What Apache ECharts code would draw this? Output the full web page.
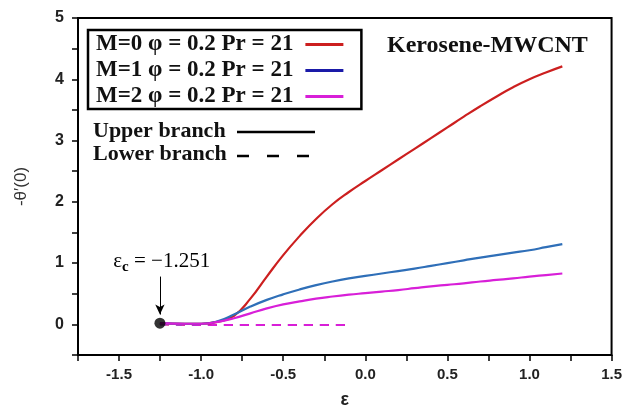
<!DOCTYPE html>
<html><head><meta charset="utf-8">
<script src="https://cdn.jsdelivr.net/npm/echarts@6/dist/echarts.min.js"></script>
<style>html,body{margin:0;padding:0;background:#fff}#c{width:625px;height:414px}</style>
</head><body><div id="c"></div>
<script>
// ---- data ----
const epsUpper = [-1.251,-1.1,-1.0,-0.9,-0.8,-0.7,-0.6,-0.5,-0.4,-0.3,-0.2,-0.1,0.0,0.1,0.2,0.3,0.4,0.5,0.6,0.7,0.8,0.9,1.0,1.1,1.2];
const m0Upper = [0.02,0.01,0.01,0.04,0.14,0.42,0.78,1.13,1.44,1.72,1.96,2.16,2.34,2.515,2.69,2.865,3.04,3.215,3.39,3.56,3.72,3.87,4.0,4.11,4.21];
const m1Upper = [0.02,0.01,0.01,0.05,0.16,0.29,0.40,0.49,0.57,0.64,0.70,0.75,0.79,0.83,0.87,0.91,0.955,1.00,1.045,1.09,1.13,1.17,1.21,1.26,1.31];
const m2Upper = [0.02,0.01,0.01,0.04,0.10,0.18,0.26,0.325,0.375,0.42,0.455,0.485,0.51,0.535,0.56,0.59,0.62,0.645,0.67,0.70,0.725,0.75,0.78,0.805,0.83];
const epsLower = [-1.251,-1.0,-0.5,-0.1];
const m0Lower = [0.0,-0.01,-0.01,-0.01];
const m1Lower = [0.0,-0.01,-0.01,-0.01];
const m2Lower = [0.0,-0.01,-0.01,-0.01];
const epsCritical = -1.251;
const seriesNames = ['M=0 \u03c6 = 0.2 Pr = 21','M=1 \u03c6 = 0.2 Pr = 21','M=2 \u03c6 = 0.2 Pr = 21'];
const xTickLabels = ['-1.5','-1.0','-0.5','0.0','0.5','1.0','1.5'];
const yTickLabels = ['0','1','2','3','4','5'];

const colors = ['#cc1f1f','#2f6fb8','#d81fd8'];
const legendColors = ['#cc1f1f','#1a1aa8','#d81fd8'];
const zip = (xs, ys) => xs.map((x,i)=>[x, ys[i]]);
const serif = '"Liberation Serif","Times New Roman",serif';
const sans = '"Liberation Sans",Arial,sans-serif';

const upper = [m0Upper,m1Upper,m2Upper];
const lower = [m0Lower,m1Lower,m2Lower];
const dashes = [[9,7],[6,10],[9,7]];
const series = [];
lower.forEach((ys,i)=>{
  series.push({name: seriesNames[i]+' lower', type:'line', data: zip(epsLower, ys), symbol:'none',
    lineStyle:{color:colors[i], width:2, type:dashes[i], dashOffset: 0}, z: 2});
});
upper.forEach((ys,i)=>{
  series.push({name: seriesNames[i], type:'line', data: zip(epsUpper, ys), symbol:'none', smooth:0.5,
    color: colors[i], lineStyle:{color:colors[i], width:2.2}, z: 3});
});
series.push({type:'scatter', data:[[epsCritical, 0.02]], symbolSize:11, itemStyle:{color:'#000'}, z:5,
  markLine:{silent:true, symbol:['none','arrow'], symbolSize:[7,10], label:{show:false},
    lineStyle:{color:'#000', width:1, type:'solid'},
    data:[[{coord:[epsCritical,0.78]},{coord:[epsCritical,0.16]}]]},
  markPoint:{symbol:'rect', symbolSize:1, itemStyle:{color:'transparent'},
    label:{show:true, position:'inside', color:'#000', fontFamily:serif, fontSize:21,
      formatter:'\u03b5{s|c} = \u2212' + Math.abs(epsCritical).toFixed(3),
      rich:{s:{fontSize:15, fontWeight:'bold', fontFamily:serif, padding:[10,0,0,0]}}},
    data:[{coord:[-1.24,1.02]}]}
});

const chart = echarts.init(document.getElementById('c'));
chart.setOption({
  animation:false,
  grid:{left:78, right:10, top:18, bottom:55, show:true, borderColor:'#000', borderWidth:2},
  legend:{data: seriesNames.map((n,i)=>({name:n, icon:'rect', itemStyle:{color:legendColors[i]}})),
    orient:'vertical', align:'right', left:88, top:30, padding:[3,18,1,8], itemGap:3,
    itemWidth:38, itemHeight:3, borderColor:'#000', borderWidth:2.5,
    textStyle:{fontFamily:serif, fontWeight:'bold', fontSize:23, lineHeight:22, color:'#111', padding:[0,7,0,0]}},
  xAxis:{type:'value', min:-1.75, max:1.5, interval:0.25,
    name:'\u03b5', nameLocation:'middle', nameGap:36,
    nameTextStyle:{fontFamily:sans, fontWeight:'bold', fontSize:18, color:'#222'},
    axisLine:{show:true, onZero:false, lineStyle:{color:'#000', width:2}},
    axisTick:{show:true, length:6, lineStyle:{color:'#000', width:1.5}},
    axisLabel:{fontFamily:sans, fontWeight:'bold', fontSize:15, color:'#222', margin:12,
      formatter:v=>{const s=v.toFixed(1); return (Math.abs(v*2-Math.round(v*2))<1e-6 && xTickLabels.includes(s))?s:'';}},
    splitLine:{show:false}},
  yAxis:{type:'value', min:-0.5, max:5, interval:0.5,
    name:'-\u03b8\u2032(0)', nameLocation:'middle', nameGap:48, nameRotate:90,
    nameTextStyle:{fontFamily:sans, fontSize:17, color:'#333'},
    axisLine:{show:true, onZero:false, lineStyle:{color:'#000', width:2}},
    axisTick:{show:true, length:6, lineStyle:{color:'#000', width:1.5}},
    axisLabel:{fontFamily:sans, fontWeight:'bold', fontSize:16, color:'#222', margin:14,
      formatter:v=>{const s=String(Math.round(v)); return (Math.abs(v-Math.round(v))<1e-6 && yTickLabels.includes(s))?s:'';}},
    splitLine:{show:false}},
  graphic:[
    {type:'text', left:387, top:34, style:{text:'Kerosene-MWCNT', font:'bold 24px '+serif, fill:'#111'}},
    {type:'text', left:93, top:120, style:{text:'Upper branch', font:'bold 22px '+serif, fill:'#111'}},
    {type:'text', left:93, top:143, style:{text:'Lower branch', font:'bold 22px '+serif, fill:'#111'}},
    {type:'line', shape:{x1:237, y1:132, x2:315, y2:132}, style:{stroke:'#000', lineWidth:2.5}},
    {type:'line', shape:{x1:237, y1:156, x2:315, y2:156}, style:{stroke:'#000', lineWidth:2.5, lineDash:[12,18]}}
  ],
  series: series
});
</script></body></html>
